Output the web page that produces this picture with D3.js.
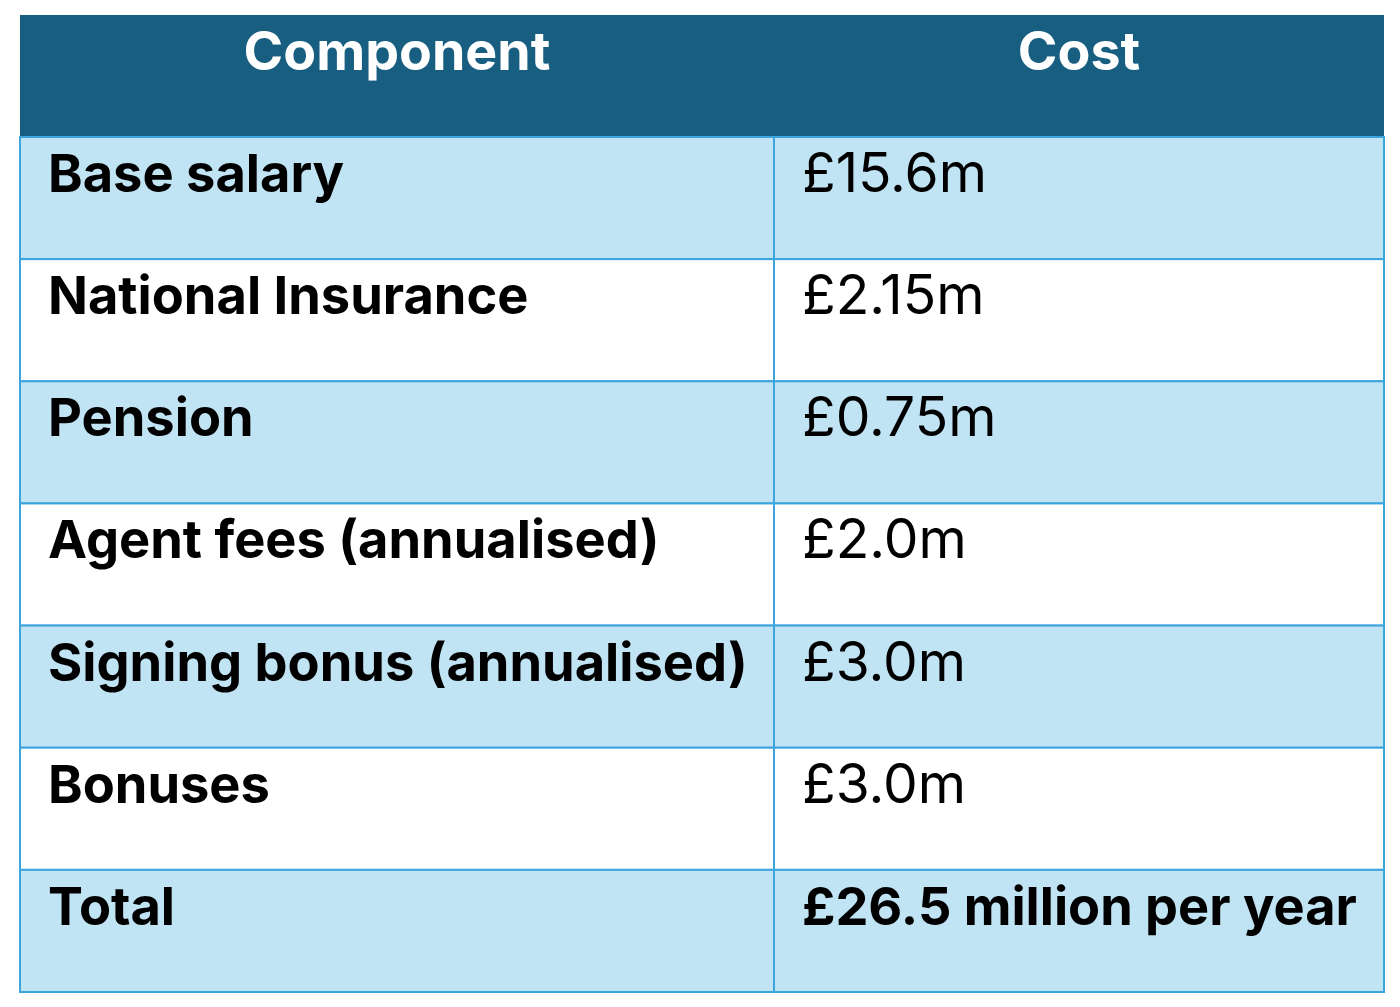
<!DOCTYPE html>
<html><head><meta charset="utf-8">
<script src="https://cdn.jsdelivr.net/npm/d3@7/dist/d3.min.js"></script>
<style>body{margin:0;background:#fff}</style>
</head><body><svg id="c" width="1400" height="1007"></svg>
<script>
const headers = ["Component", "Cost"];
const components = ["Base salary","National Insurance","Pension","Agent fees (annualised)","Signing bonus (annualised)","Bonuses","Total"];
const costs = ["£15.6m","£2.15m","£0.75m","£2.0m","£3.0m","£3.0m","£26.5 million per year"];

const svg = d3.select("#c");
const font = "Inter, Lato, sans-serif";
const x = d3.scaleOrdinal().domain([0,1,2]).range([20,774,1384]);
const rowKeys = d3.range(components.length);
const y = d3.scaleBand().domain(rowKeys).range([137,992]);

function fit(text, weight, target){
  const t = svg.append("text").attr("font-family",font).attr("font-weight",weight).attr("font-size",48).text(text);
  const w = t.node().getComputedTextLength(); t.remove();
  return 48*target/w;
}
const hSize = fit("Component",700,307);
const bSize = fit("Signing bonus (annualised)",700,700);
const rSize = fit("£15.6m",400,185);
const tSize = fit("£26.5 million per year",700,555);

svg.append("rect").attr("x",20).attr("y",15).attr("width",1364).attr("height",122).attr("fill","#175E80");
svg.selectAll("text.h").data(headers).join("text").attr("class","h")
  .attr("x",(d,i)=>(x(i)+x(i+1))/2).attr("y",70).attr("text-anchor","middle")
  .attr("fill","#fff").attr("font-family",font).attr("font-weight",700).attr("font-size",hSize).text(d=>d);

const rows = svg.selectAll("g.r").data(rowKeys).join("g").attr("class","r");
rows.append("rect").attr("x",20).attr("y",d=>y(d)).attr("width",1364).attr("height",y.bandwidth())
  .attr("fill",d=>d%2===0?"#C1E4F4":"#fff").attr("stroke","#3DA5DD").attr("stroke-width",2);
rows.append("line").attr("x1",774).attr("x2",774).attr("y1",d=>y(d)).attr("y2",d=>y(d)+y.bandwidth())
  .attr("stroke","#3DA5DD").attr("stroke-width",2);
rows.append("text").attr("x",48).attr("y",d=>y(d)+55).attr("font-family",font).attr("font-weight",700)
  .attr("font-size",bSize).attr("fill","#000").text(d=>components[d]);
rows.append("text").attr("x",802).attr("y",d=>y(d)+55).attr("font-family",font)
  .attr("font-weight",d=>d===components.length-1?700:400)
  .attr("font-size",d=>d===components.length-1?tSize:rSize).attr("fill","#000").text(d=>costs[d]);
</script></body></html>
